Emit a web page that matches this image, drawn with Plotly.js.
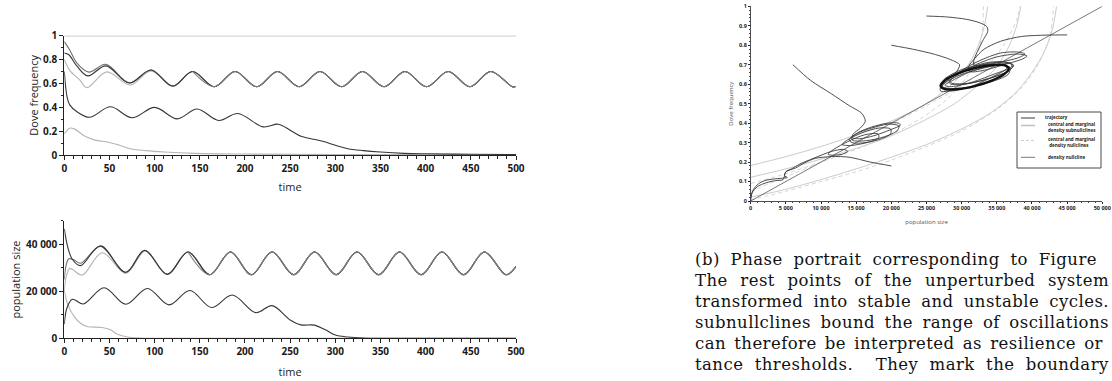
<!DOCTYPE html>
<html><head><meta charset="utf-8">
<script src="https://cdn.plot.ly/plotly-3.0.1.min.js"></script>
<style>html,body{margin:0;padding:0;background:#fff}#chart{width:1112px;height:381px}</style>
</head><body><div id="chart"></div>
<script>
// ---------- tick labels ----------
const timeTicks = [0,50,100,150,200,250,300,350,400,450,500];
const timeTickLabels = ['0','50','100','150','200','250','300','350','400','450','500'];
const freqTicks = [0,0.2,0.4,0.6,0.8,1];
const freqTickLabels = ['0','0.2','0.4','0.6','0.8','1'];
const popTicks = [0,20000,40000];
const popTickLabels = ['0','20 000','40 000'];
const phaseXTicks = [0,5000,10000,15000,20000,25000,30000,35000,40000,45000,50000];
const phaseXTickLabels = ['0','5 000','10 000','15 000','20 000','25 000','30 000','35 000','40 000','45 000','50 000'];
const phaseYTicks = [0,0.1,0.2,0.3,0.4,0.5,0.6,0.7,0.8,0.9,1];
const phaseYTickLabels = ['0','0.1','0.2','0.3','0.4','0.5','0.6','0.7','0.8','0.9','1'];

// ---------- Dove frequency over time ----------
const freqCycleT = [142,166,189,213,236,260,283,307,330,354,377,401,425,449,472,496,500];
const freqCycleV = [0.70,0.572,0.70,0.572,0.70,0.572,0.70,0.572,0.70,0.572,0.70,0.572,0.70,0.572,0.70,0.572,0.574];
const freqTopT = [0,500];
const freqTopV = [1,1];
const freqAT = [0,6,14,27,46,72,96,120];
const freqAV = [0.95,0.88,0.77,0.695,0.76,0.605,0.713,0.578];
const freqBT = [0,5,14,26,46,72,96,120];
const freqBV = [0.855,0.84,0.745,0.663,0.747,0.603,0.712,0.578];
const freqCT = [0,6,17,25,47,73,96,120];
const freqCV = [0.80,0.71,0.63,0.565,0.697,0.587,0.705,0.575];
const freqDT = [0,3,6,14,28,51,75,100,125,147,171,192,220,237,250,262,272,286,300,314,331,350,376,400,450,500];
const freqDV = [0.70,0.49,0.42,0.363,0.316,0.404,0.312,0.399,0.303,0.385,0.289,0.348,0.236,0.258,0.208,0.157,0.138,0.115,0.081,0.053,0.037,0.025,0.014,0.01,0.006,0.004];
const freqET = [0,6,11,21,32,49,59,73,90,111,145,197,300,500];
const freqEV = [0.177,0.225,0.219,0.166,0.129,0.107,0.087,0.053,0.037,0.025,0.014,0.008,0.004,0.002];

// ---------- population size over time ----------
const popCycleT = [137,161,184,207,230,254,277,301,324,348,371,395,418,442,465,489,500];
const popCycleV = [36700,27000,36700,27000,36700,27000,36700,27000,36700,27000,36700,27000,36700,27000,36700,27000,30600];
const popAT = [0,2,5,10,18,40,68,89,114];
const popAV = [25000,31000,33800,33500,31900,39000,28000,37300,27200];
const popBT = [0,4,9,18,40,68,89,114];
const popBV = [46500,38500,33500,30900,39300,28100,37400,27200];
const popCT = [0,2,6,10,20,42,68,90,114];
const popCV = [20000,26000,29700,29000,26900,36400,27600,37100,27100];
const popDT = [0,3,9,21,44,68,92,116,139,163,186,212,230,250,262,277,289,300,314,331,350,500];
const popDV = [6000,13000,16600,14600,21500,14500,21200,14200,20300,13100,18400,10900,13900,7800,5700,5600,3600,1400,570,140,0,0];
const popET = [0,4,11,18,25,42,51,59,70,83,100,500];
const popEV = [20500,14200,9200,6400,5000,4600,3600,1700,570,140,0,0];

// ---------- phase portrait ----------
const densNullX = [0,50000];
const densNullY = [0,1];
const subAX = [0,5000,10000,15000,20000,24000,27000,29500,31300,32500,33300,33700];
const subAY = [0.182,0.228,0.28,0.34,0.41,0.48,0.55,0.63,0.72,0.81,0.91,1.0];
const subBX = [0,5000,10000,15000,20000,25000,29000,32500,35000,36800,37900,38400];
const subBY = [0.122,0.165,0.215,0.27,0.335,0.42,0.50,0.60,0.69,0.80,0.91,1.0];
const subCX = [0,5000,10000,15000,20000,25000,30000,34000,37500,40000,41800,42900,43500];
const subCY = [0.02,0.06,0.11,0.165,0.225,0.29,0.37,0.45,0.55,0.66,0.77,0.88,1.0];
const nullAX = [0,5000,10000,15000,20000,24000,27500,30000,31700,32600,33000,33100];
const nullAY = [0.09,0.14,0.2,0.265,0.34,0.42,0.51,0.6,0.7,0.8,0.9,1.0];
const nullBX = [0,5000,10000,17500,25000,29000,32000,34500,36500,37800,38300];
const nullBY = [0.05,0.125,0.2,0.35,0.49,0.57,0.64,0.73,0.83,0.93,1.0];
const nullCX = [0,5000,10000,15000,20000,25000,30000,35000,38500,41000,42500,43100];
const nullCY = [0.005,0.05,0.1,0.15,0.21,0.28,0.36,0.47,0.58,0.71,0.84,1.0];

const traj1X = [6000,8500,11500,14000,15800,16300,15600,14600,14400,15500,17500,19800,21300,21000,19500,17200,15200,14300,14600,16500,19000,20800,21100,19600,17200,15000,14000,14400,16400,18600,19900,19900,18300,15800,13600,13000,14200,16500,18200,18100,16200,13800,11800,11000,11600,13000,13800,13200,11500,9000,7000,5800,5000,4800,5200,4800,3500,2000,1100,400,0];
const traj1Y = [0.70,0.62,0.55,0.49,0.45,0.41,0.375,0.345,0.325,0.32,0.335,0.365,0.39,0.40,0.40,0.38,0.35,0.32,0.31,0.31,0.33,0.36,0.385,0.395,0.375,0.345,0.315,0.30,0.30,0.32,0.345,0.37,0.375,0.35,0.31,0.29,0.285,0.30,0.325,0.345,0.34,0.305,0.265,0.24,0.235,0.24,0.255,0.265,0.255,0.22,0.19,0.165,0.15,0.13,0.12,0.118,0.114,0.105,0.088,0.06,0.015];
const traj2X = [45000,42000,38500,35500,33200,31800,31000,31200,33000,36000,38700,39300,38000,35000,32000,29500,28200,28500,30500,33500,36500,37400,36300,33500,30500,28000,27200,28200,31000,34000,36600,36900,35800,33000,30000,27500,27000];
const traj2Y = [0.853,0.852,0.845,0.82,0.78,0.73,0.69,0.665,0.67,0.70,0.73,0.745,0.755,0.74,0.70,0.65,0.61,0.60,0.60,0.625,0.665,0.695,0.712,0.705,0.67,0.63,0.59,0.578,0.585,0.61,0.65,0.685,0.70,0.70,0.675,0.625,0.59];
const traj3X = [25000,28000,30700,32600,33600,33700,33100,32400,31800,31700,32500,35000,38000,39000,38000,35500,32500,30000,28300,28600,31000,34000,36800,37300,36000,33500,30500,28000,27200];
const traj3Y = [0.95,0.945,0.933,0.915,0.895,0.87,0.83,0.78,0.73,0.70,0.695,0.71,0.735,0.755,0.765,0.76,0.72,0.67,0.62,0.605,0.605,0.63,0.67,0.70,0.715,0.71,0.675,0.63,0.59];
const traj4X = [20000,23000,26000,28500,29700,29300,28000,27000,27000,28500,31500,34500,36400,36200,34000,31000,28500,27600,28300,31000,34500,37100,37000,35000,32000,29000,27200,27100];
const traj4Y = [0.80,0.78,0.755,0.725,0.70,0.665,0.62,0.585,0.565,0.565,0.59,0.64,0.68,0.697,0.69,0.66,0.615,0.595,0.587,0.605,0.65,0.69,0.705,0.70,0.675,0.635,0.595,0.58];
const traj5X = [20000,17000,14000,11500,9200,7600,6400,5600,5000,4600,3600,2500,1700,1000,570,140,0];
const traj5Y = [0.18,0.20,0.225,0.228,0.219,0.195,0.17,0.16,0.15,0.11,0.105,0.097,0.087,0.075,0.06,0.04,0.0];
const cycleX = [36700,36050,34275,31850,29425,27650,27000,27650,29425,31850,34275,36050,36700];
const cycleY = [0.6805,0.6975,0.698,0.682,0.6537,0.6205,0.5915,0.5745,0.5739,0.590,0.6183,0.6515,0.6805];

// ---------- legend labels ----------
const legendLabels = ['trajectory', 'central and marginal<br>density subnullclines', 'central and marginal<br> density nullclines', 'density nullcline'];

// ---------- caption ----------
const captionLines = [
  '(b) Phase portrait corresponding to Figure',
  'The rest points of the unperturbed system',
  'transformed into stable and unstable cycles.',
  'subnullclines bound the range of oscillations',
  'can therefore be interpreted as resilience or',
  'tance thresholds.  They mark the boundary'
];
const captionRightEdge = [1097, 1109, 1109, 1109, 1103, 1109];

// ---------- build ----------
const DARK = '#363636', MID = '#707070', LIGHT = '#b4b4b4';
const TRAJ = '#3a3a3a', SUB = '#c4c4c4', NUL = '#cfcfcf', DNULL = '#555555';
function ts(t, v, color, xa, ya, w) {
  return {x: t, y: v, xaxis: xa, yaxis: ya, type: 'scatter', mode: 'lines',
    line: {color: color, width: w || 1.1, shape: 'spline', smoothing: 1}, showlegend: false, hoverinfo: 'skip'};
}
const data = [];
data.push(ts(freqTopT, freqTopV, '#8a8a8a', 'x', 'y'));
data.push(ts(freqET, freqEV, LIGHT, 'x', 'y'));
data.push(ts(freqDT, freqDV, DARK, 'x', 'y'));
data.push(ts(freqCT.concat(freqCycleT), freqCV.concat(freqCycleV), LIGHT, 'x', 'y'));
data.push(ts(freqAT.concat(freqCycleT), freqAV.concat(freqCycleV), MID, 'x', 'y'));
data.push(ts(freqBT.concat(freqCycleT), freqBV.concat(freqCycleV), DARK, 'x', 'y'));
data.push(ts(freqCycleT, freqCycleV, '#808080', 'x', 'y'));
data.push(ts(popET, popEV, LIGHT, 'x2', 'y2'));
data.push(ts(popDT, popDV, DARK, 'x2', 'y2'));
data.push(ts(popCT.concat(popCycleT), popCV.concat(popCycleV), LIGHT, 'x2', 'y2'));
data.push(ts(popAT.concat(popCycleT), popAV.concat(popCycleV), MID, 'x2', 'y2'));
data.push(ts(popBT.concat(popCycleT), popBV.concat(popCycleV), DARK, 'x2', 'y2'));
data.push(ts(popCycleT, popCycleV, '#808080', 'x2', 'y2'));
function ph(x, y, color, w, dash, name) {
  return {x: x, y: y, xaxis: 'x3', yaxis: 'y3', type: 'scatter', mode: 'lines',
    line: {color: color, width: w, dash: dash || 'solid', shape: 'spline', smoothing: 0.8},
    name: name || '', showlegend: false, hoverinfo: 'skip'};
}
data.push(ph(subAX, subAY, SUB, 0.9, 'solid', 'central and marginal density subnullclines'));
data.push(ph(subBX, subBY, SUB, 0.9));
data.push(ph(subCX, subCY, SUB, 0.9));
data.push(ph(nullAX, nullAY, NUL, 0.9, '4px,3px', 'central and marginal density nullclines'));
data.push(ph(nullBX, nullBY, NUL, 0.9, '4px,3px'));
data.push(ph(nullCX, nullCY, NUL, 0.9, '4px,3px'));
data.push(ph(densNullX, densNullY, DNULL, 0.8, 'solid', 'density nullcline'));
data.push(ph(traj1X, traj1Y, TRAJ, 0.9, 'solid', 'trajectory'));
data.push(ph(traj2X, traj2Y, TRAJ, 0.9));
data.push(ph(traj3X, traj3Y, TRAJ, 0.9));
data.push(ph(traj4X, traj4Y, TRAJ, 0.9));
data.push(ph(traj5X, traj5Y, TRAJ, 0.9));
data.push(ph(cycleX, cycleY, '#111111', 2.4));

const W = 1112, H = 381;
const px = v => v / W, py = v => 1 - v / H;
const tickFontL = {family: 'Open Sans', size: 10, color: '#1a1a1a', weight: 'bold'};
const titleFontL = {family: 'Open Sans', size: 11, color: '#222'};
const tickFontR = {family: 'Open Sans', size: 5.5, color: '#1a1a1a', weight: 'bold'};
const titleFontR = {family: 'Open Sans', size: 6, color: '#555'};
function axisBase(extra) {
  return Object.assign({showgrid: false, zeroline: false, showline: true, linecolor: '#222', linewidth: 1,
    ticks: 'outside', ticklen: 4, tickcolor: '#222', automargin: false, fixedrange: true}, extra);
}
const annotations = captionLines.map((t, i) => ({
  text: t, xref: 'paper', yref: 'paper', x: px(693), y: py(264 + 21 * i - 5),
  xanchor: 'left', yanchor: 'middle', align: 'left', showarrow: false,
  font: {family: 'DejaVu Serif', size: 16.5, color: '#111'}
}));
const legFont = {family: 'Open Sans', size: 4.5, color: '#222', weight: 'bold'};
const legRows = [117, 127.3, 141.8, 157.3];
const legKeyY = [118, 125.5, 140.5, 157.3];
const legTextX = [1043, 1046, 1046, 1046];
legendLabels.forEach((t, i) => annotations.push({text: t, xref: 'paper', yref: 'paper', x: px(legTextX[i]), y: py(legRows[i]),
  xanchor: 'left', yanchor: 'middle', align: 'left', showarrow: false, font: legFont}));
const legKeyStyle = [{color: TRAJ, width: 1}, {color: SUB, width: 1.6}, {color: NUL, width: 1.2, dash: '3px,2px'}, {color: DNULL, width: 0.8}];
const shapes = [{type: 'rect', xref: 'paper', yref: 'paper', x0: px(1017), x1: px(1101), y0: py(168), y1: py(112),
  line: {color: '#333', width: 0.9}, fillcolor: '#fff', layer: 'above'}];
legKeyY.forEach((y, i) => shapes.push({type: 'line', xref: 'paper', yref: 'paper', x0: px(1021), x1: px(1035), y0: py(y), y1: py(y),
  line: legKeyStyle[i], layer: 'above'}));

const layout = {
  width: W, height: H, margin: {l: 0, r: 0, t: 0, b: 0}, paper_bgcolor: '#fff', plot_bgcolor: 'rgba(0,0,0,0)',
  xaxis: axisBase({domain: [px(64.3), px(516)], range: [0, 500], anchor: 'y', tickvals: timeTicks, ticktext: timeTickLabels,
    tickfont: tickFontL, title: {text: 'time', font: titleFontL, standoff: 9}, minor: {dtick: 10, ticklen: 2.5, ticks: 'outside', tickcolor: '#222'}}),
  yaxis: axisBase({domain: [py(155), py(35.7)], range: [0, 1], anchor: 'x', tickvals: freqTicks, ticktext: freqTickLabels,
    tickfont: tickFontL, title: {text: 'Dove frequency', font: titleFontL, standoff: 2}, minor: {dtick: 0.1, ticklen: 2.5, ticks: 'outside', tickcolor: '#222'}}),
  xaxis2: axisBase({domain: [px(64.3), px(516)], range: [0, 500], anchor: 'y2', tickvals: timeTicks, ticktext: timeTickLabels,
    tickfont: tickFontL, title: {text: 'time', font: titleFontL, standoff: 11}, minor: {dtick: 10, ticklen: 2.5, ticks: 'outside', tickcolor: '#222'}}),
  yaxis2: axisBase({domain: [py(338.3), py(220.7)], range: [0, 50000], anchor: 'x2', tickvals: popTicks, ticktext: popTickLabels,
    tickfont: tickFontL, title: {text: 'population size', font: titleFontL, standoff: 3}, minor: {dtick: 10000, ticklen: 2.5, ticks: 'outside', tickcolor: '#222'}}),
  xaxis3: axisBase({domain: [px(750.7), px(1102.3)], range: [0, 50000], anchor: 'y3', tickvals: phaseXTicks, ticktext: phaseXTickLabels,
    tickfont: tickFontR, ticklen: 2, linewidth: 0.8, title: {text: 'population size', font: titleFontR, standoff: 8}, minor: {dtick: 1000, ticklen: 1.2, ticks: 'outside', tickcolor: '#444'}}),
  yaxis3: axisBase({domain: [py(201), py(6.3)], range: [0, 1], anchor: 'x3', tickvals: phaseYTicks, ticktext: phaseYTickLabels,
    tickfont: tickFontR, ticklen: 2, linewidth: 0.8, title: {text: 'Dove frequency', font: titleFontR, standoff: 4}, minor: {dtick: 0.02, ticklen: 1.2, ticks: 'outside', tickcolor: '#444'}}),
  showlegend: false,
  shapes: shapes,
  annotations: annotations
};
Plotly.newPlot('chart', data, layout, {displayModeBar: false, staticPlot: true}).then(function (gd) {
  // justify the caption lines like the typeset source
  const texts = gd.querySelectorAll('.annotation-text');
  const host = gd.getBoundingClientRect();
  captionLines.forEach(function (line, i) {
    const el = texts[i];
    if (!el) return;
    const spaces = (line.match(/ /g) || []).length;
    el.style.letterSpacing = '0.45px';
    el.style.wordSpacing = '0px';
    let ws = 0;
    for (let k = 0; k < 3; k++) {
      const right = el.getBoundingClientRect().right - host.left;
      ws += (captionRightEdge[i] - right) / spaces;
      if (ws < 0) ws = 0;
      el.style.wordSpacing = ws.toFixed(2) + 'px';
    }
  });
});
</script></body></html>
